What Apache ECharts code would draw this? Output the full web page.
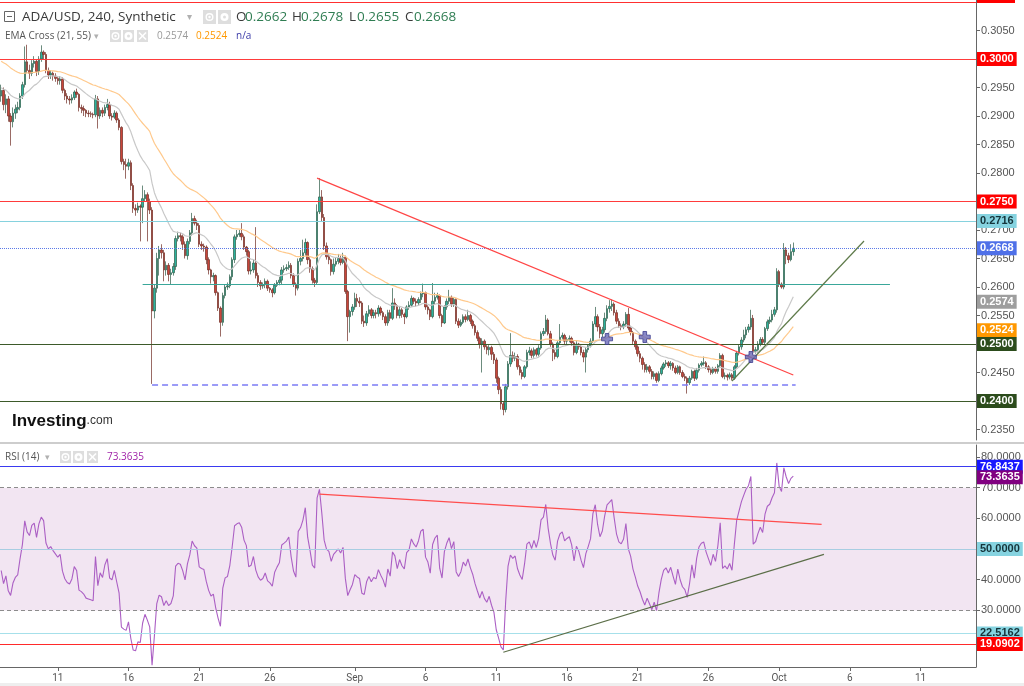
<!DOCTYPE html>
<html><head><meta charset="utf-8">
<script src="https://cdn.jsdelivr.net/npm/echarts@6/dist/echarts.min.js"></script>
<style>html,body{margin:0;padding:0;background:#fff;}#c{width:1024px;height:686px;}</style>
</head><body><div id="c"></div>
<script>
// ---------- data ----------
const startDate = Date.UTC(2023, 7, 7, 0, 0);   // first 4h candle
const candleHours = 4;
const categoryCount = 414;                        // visible 4h slots incl. empty future
const tickIndex = [24, 54, 84, 114, 150, 180, 210, 240, 270, 300, 330, 360, 390];
const tickText  = ['11', '16', '21', '26', 'Sep', '6', '11', '16', '21', '26', 'Oct', '6', '11'];
const PRICE_UNIT = 1e-4;

const openP = [
2935,2945,2920,2930,2900,2890,2905,2912,2915,2935,
2955,2995,2980,2975,2992,2996,2978,3000,3012,3008,
2980,2972,2975,2970,2966,2962,2965,2945,2935,2930,
2928,2932,2942,2938,2915,2913,2910,2905,2904,2903,
2902,2930,2900,2910,2905,2915,2920,2900,2898,2905,
2893,2880,2820,2815,2812,2818,2778,2738,2735,2742,
2740,2755,2762,2750,2735,2558,2598,2650,2665,2660,
2630,2638,2622,2625,2636,2685,2690,2688,2675,2655,
2680,2695,2720,2712,2708,2675,2672,2670,2648,2630,
2618,2620,2590,2563,2538,2585,2600,2602,2618,2648,
2688,2692,2694,2688,2670,2662,2628,2630,2642,2620,
2608,2602,2604,2610,2598,2595,2590,2603,2608,2612,
2630,2632,2634,2638,2620,2605,2598,2645,2650,2660,
2678,2648,2632,2612,2608,2732,2758,2722,2672,2653,
2648,2627,2640,2645,2650,2643,2652,2592,2548,2557,
2565,2580,2575,2572,2540,2537,2553,2560,2550,2555,
2553,2563,2555,2548,2537,2555,2545,2572,2567,2550,
2560,2552,2548,2565,2568,2580,2575,2572,2578,2588,
2590,2565,2560,2548,2575,2582,2585,2550,2537,2565,
2575,2582,2570,2578,2540,2533,2538,2548,2543,2550,
2540,2532,2520,2510,2500,2505,2495,2490,2494,2482,
2472,2440,2420,2395,2385,2425,2465,2480,2475,2478,
2460,2450,2443,2460,2485,2488,2480,2490,2482,2493,
2518,2522,2542,2518,2500,2485,2478,2502,2512,2515,
2505,2508,2510,2502,2485,2500,2495,2485,2477,2490,
2497,2505,2535,2548,2530,2518,2525,2545,2562,2566,
2570,2555,2540,2532,2530,2535,2552,2528,2520,2505,
2495,2483,2475,2464,2455,2460,2452,2443,2448,2436,
2448,2458,2465,2467,2462,2466,2458,2450,2460,2450,
2443,2440,2432,2440,2452,2440,2454,2463,2466,2467,
2460,2455,2450,2457,2452,2462,2480,2443,2445,2442,
2446,2440,2460,2484,2495,2507,2516,2525,2530,2545,
2487,2490,2500,2508,2503,2527,2539,2542,2552,2560,
2627,2605,2600,2665,2655,2648,2662];

const closeP = [
2945,2920,2930,2900,2890,2905,2912,2915,2935,2955,
2995,2980,2975,2992,2996,2978,3000,3012,3008,2980,
2972,2975,2970,2966,2962,2965,2945,2935,2930,2928,
2932,2942,2938,2915,2913,2910,2905,2904,2903,2902,
2930,2900,2910,2905,2915,2920,2900,2898,2905,2893,
2880,2820,2815,2812,2818,2778,2738,2735,2742,2740,
2755,2762,2750,2735,2558,2598,2650,2665,2660,2630,
2638,2622,2625,2636,2685,2690,2688,2675,2655,2680,
2695,2720,2712,2708,2675,2672,2670,2648,2630,2618,
2620,2590,2563,2538,2585,2600,2602,2618,2648,2688,
2692,2694,2688,2670,2662,2628,2630,2642,2620,2608,
2602,2604,2610,2598,2595,2590,2603,2608,2612,2630,
2632,2634,2638,2620,2605,2598,2645,2650,2660,2678,
2648,2632,2612,2608,2732,2758,2722,2672,2653,2648,
2627,2640,2645,2650,2643,2652,2592,2548,2557,2565,
2580,2575,2572,2540,2537,2553,2560,2550,2555,2553,
2563,2555,2548,2537,2555,2545,2572,2567,2550,2560,
2552,2548,2565,2568,2580,2575,2572,2578,2588,2590,
2565,2560,2548,2575,2582,2585,2550,2537,2565,2575,
2582,2570,2578,2540,2533,2538,2548,2543,2550,2540,
2532,2520,2510,2500,2505,2495,2490,2494,2482,2472,
2440,2420,2395,2385,2425,2465,2480,2475,2478,2460,
2450,2443,2460,2485,2488,2480,2490,2482,2493,2518,
2522,2542,2518,2500,2485,2478,2502,2512,2515,2505,
2508,2510,2502,2485,2500,2495,2485,2477,2490,2497,
2505,2535,2548,2530,2518,2525,2545,2562,2566,2570,
2555,2540,2532,2530,2535,2552,2528,2520,2505,2495,
2483,2475,2464,2455,2460,2452,2443,2448,2436,2448,
2458,2465,2467,2462,2466,2458,2450,2460,2450,2443,
2440,2432,2440,2452,2440,2454,2463,2466,2467,2460,
2455,2450,2457,2452,2462,2480,2443,2445,2442,2446,
2440,2460,2484,2495,2507,2516,2525,2530,2545,2487,
2490,2500,2508,2503,2527,2539,2542,2552,2560,2627,
2605,2600,2665,2655,2648,2662,2668];

const highP = [
2955,2950,2938,2935,2905,2915,2920,2925,2940,2960,
3022,3025,2990,2998,3005,3000,3005,3024,3015,3012,
2985,2980,2978,2975,2970,2970,2968,2948,2940,2935,
2938,2945,2948,2940,2920,2918,2912,2910,2908,2906,
2937,2935,2915,2915,2920,2930,2925,2905,2910,2908,
2896,2882,2825,2825,2825,2822,2782,2745,2748,2745,
2778,2770,2766,2755,2740,2605,2660,2672,2675,2665,
2645,2642,2632,2642,2690,2697,2695,2692,2680,2685,
2700,2730,2725,2718,2712,2680,2676,2673,2652,2632,
2625,2622,2592,2566,2590,2605,2608,2622,2652,2692,
2700,2700,2712,2692,2672,2665,2645,2648,2705,2625,
2612,2608,2615,2613,2600,2598,2607,2612,2618,2635,
2638,2640,2645,2642,2624,2608,2650,2665,2683,2685,
2680,2652,2636,2616,2745,2791,2770,2728,2678,2658,
2650,2650,2652,2658,2655,2660,2655,2595,2560,2570,
2590,2588,2582,2575,2550,2558,2568,2563,2560,2560,
2568,2566,2558,2552,2560,2560,2598,2580,2570,2565,
2563,2555,2568,2575,2585,2582,2580,2582,2592,2606,
2592,2568,2562,2607,2590,2590,2587,2553,2568,2580,
2595,2585,2582,2580,2545,2543,2552,2552,2560,2553,
2543,2535,2524,2513,2510,2508,2498,2498,2497,2486,
2476,2443,2425,2400,2430,2470,2519,2487,2485,2482,
2463,2455,2463,2490,2495,2492,2494,2493,2498,2522,
2528,2551,2545,2523,2503,2490,2505,2535,2520,2518,
2512,2515,2513,2505,2505,2502,2498,2490,2494,2500,
2510,2540,2565,2552,2535,2530,2555,2568,2577,2578,
2573,2560,2545,2536,2540,2556,2563,2532,2523,2508,
2498,2488,2478,2468,2465,2463,2456,2452,2450,2452,
2462,2468,2472,2470,2470,2468,2462,2463,2462,2454,
2448,2443,2444,2455,2455,2458,2466,2470,2478,2470,
2463,2458,2460,2460,2465,2484,2483,2450,2448,2450,
2449,2463,2488,2500,2512,2525,2530,2535,2560,2551,
2495,2505,2512,2512,2530,2543,2548,2560,2565,2633,
2630,2608,2677,2670,2660,2675,2678];

const lowP = [
2925,2910,2905,2890,2848,2880,2895,2905,2910,2930,
2950,2975,2965,2970,2985,2970,2972,2995,3000,2975,
2965,2965,2962,2960,2955,2955,2940,2928,2922,2920,
2922,2928,2932,2908,2905,2900,2898,2898,2898,2896,
2898,2878,2895,2898,2900,2910,2895,2892,2895,2888,
2875,2815,2805,2790,2805,2770,2730,2725,2730,2680,
2712,2750,2680,2728,2430,2545,2590,2620,2650,2610,
2620,2610,2605,2620,2630,2680,2680,2665,2650,2648,
2675,2690,2708,2700,2670,2665,2662,2640,2622,2606,
2610,2585,2558,2513,2532,2580,2595,2598,2612,2642,
2683,2688,2682,2665,2655,2622,2622,2625,2615,2600,
2595,2597,2598,2593,2590,2582,2587,2600,2603,2605,
2625,2628,2630,2615,2600,2585,2594,2638,2645,2655,
2640,2625,2606,2600,2605,2728,2715,2665,2648,2640,
2620,2622,2636,2640,2638,2640,2588,2505,2520,2550,
2560,2565,2565,2535,2530,2532,2548,2545,2545,2545,
2548,2550,2542,2532,2532,2540,2542,2560,2545,2545,
2546,2535,2545,2560,2565,2570,2566,2568,2572,2582,
2560,2552,2542,2545,2570,2578,2545,2530,2535,2560,
2570,2565,2565,2535,2528,2530,2535,2538,2540,2535,
2527,2515,2505,2492,2450,2490,2482,2480,2472,2465,
2432,2412,2385,2375,2380,2420,2460,2468,2470,2455,
2445,2438,2440,2457,2480,2475,2476,2478,2478,2490,
2514,2518,2515,2495,2470,2473,2475,2500,2508,2500,
2500,2503,2497,2480,2482,2490,2480,2468,2450,2485,
2494,2502,2530,2522,2510,2512,2520,2540,2555,2558,
2550,2535,2528,2524,2526,2530,2524,2515,2500,2490,
2478,2468,2455,2450,2450,2448,2438,2438,2432,2433,
2445,2455,2460,2458,2455,2453,2447,2447,2446,2440,
2435,2413,2428,2437,2435,2437,2450,2460,2462,2456,
2450,2446,2447,2448,2448,2458,2440,2438,2436,2438,
2436,2437,2457,2480,2490,2503,2510,2520,2525,2482,
2483,2485,2496,2500,2500,2523,2535,2538,2548,2555,
2600,2597,2596,2640,2642,2645,2655];

const emaPeriods = [21, 55];
const emaSeeds = [2950, 2998];
const rsiPeriod = 14;
const rsiSeedGain = 8, rsiSeedLoss = 10.6;

// horizontal price levels (main pane)
const redLevels = [0.3100, 0.3000, 0.2750];
const cyanLevel = 0.2716;
const lastPrice = 0.2668;
const emaLast = [0.2574, 0.2524];
const greenLevels = [0.2500, 0.2400];
const supportSeg = [[60, 0.2605], [377, 0.2605]];
const dashedSeg = [[64, 0.2428], [337, 0.2428]];
const redTrend = [[134, 0.2791], [336, 0.24456]];
const greenTrend = [[310, 0.24351], [366, 0.26807]];
const crossIdx = [257, 273, 318];
const crossVal = [0.25088, 0.25123, 0.24772];

// RSI pane levels
const rsiTop = 76.8437, rsiLast = 73.3635;
const rsiBand = [30, 70];
const rsiMid = 50, rsiLow1 = 22.5162, rsiLow2 = 19.0902;
const rsiRedTrend = [[135, 67.9], [348, 58.05]];
const rsiGreenTrend = [[213, 16.35], [349, 48.27]];

// header texts
const ohlc = ['0.2662', '0.2678', '0.2655', '0.2668'];

// ---------- derived ----------
const categories = [];
for (let i = 0; i < categoryCount; i++) {
  const d = new Date(startDate + i * candleHours * 3600e3);
  categories.push(d.toISOString().slice(0, 16).replace('T', ' '));
}
const tickMap = {};
tickIndex.forEach((k, j) => { tickMap[k] = tickText[j]; });

const candles = openP.map((o, i) => [o * PRICE_UNIT, closeP[i] * PRICE_UNIT, lowP[i] * PRICE_UNIT, highP[i] * PRICE_UNIT]);

function ema(src, n, seed) {
  const k = 2 / (n + 1); let e = seed;
  return src.map(c => { e = c * k + e * (1 - k); return +(e * PRICE_UNIT).toFixed(5); });
}
function rsi(src, n, g0, l0) {
  let ag = g0, al = l0; const out = [];
  for (let i = 0; i < src.length; i++) {
    const d = i ? src[i] - src[i - 1] : 0;
    ag = (ag * (n - 1) + Math.max(d, 0)) / n;
    al = (al * (n - 1) + Math.max(-d, 0)) / n;
    out.push(+(100 - 100 / (1 + ag / al)).toFixed(2));
  }
  return out;
}
const emaFast = ema(closeP, emaPeriods[0], emaSeeds[0]);
const emaSlow = ema(closeP, emaPeriods[1], emaSeeds[1]);
const rsiVals = rsi(closeP, rsiPeriod, rsiSeedGain, rsiSeedLoss);

// ---------- styling helpers ----------
const LBL = { show: true, position: 'end', distance: 1, fontSize: 11, fontWeight: 'bold', fontFamily: 'Liberation Sans, Arial', padding: [2, 3, 1, 3] };
function level(v, lineColor, lineType, bg, fg, digits, width) {
  return {
    yAxis: v,
    lineStyle: { color: lineColor, type: lineType, width: width || 1 },
    label: bg ? Object.assign({}, LBL, { formatter: v.toFixed(digits), backgroundColor: bg, color: fg }) : { show: false }
  };
}
function seg(pts, color, type, width) {
  return [
    { coord: pts[0], lineStyle: { color: color, type: type, width: width }, label: { show: false } },
    { coord: pts[1] }
  ];
}
const NONE = 'rgba(0,0,0,0)';

const mainMarks = [
  level(redLevels[0], '#ff3030', 'solid', null, null, 4),
  level(redLevels[1], '#ff3b3b', 'solid', '#ff0000', '#fff', 4),
  level(redLevels[2], '#ff3b3b', 'solid', '#ff0000', '#fff', 4),
  level(cyanLevel, '#86d2de', 'solid', '#86d3e0', '#15343a', 4),
  level(lastPrice, '#5b79e8', 'dotted', '#4f70e8', '#fff', 4),
  level(emaLast[0], NONE, 'solid', '#9e9e9e', '#fff', 4),
  level(emaLast[1], NONE, 'solid', '#ff9800', '#fff', 4),
  level(greenLevels[0], '#3d5a2a', 'solid', '#2c4c1c', '#fff', 4),
  level(greenLevels[1], '#3d5a2a', 'solid', '#2c4c1c', '#fff', 4),
  seg(supportSeg, '#3aa79a', 'solid', 1.2),
  seg(dashedSeg, '#7b7bf5', [6, 4], 1.5),
  seg(redTrend, '#ff4545', 'solid', 1.2),
  seg(greenTrend, '#5e7a4a', 'solid', 1.2)
];

const rsiMarks = [
  level(rsiTop, '#3a3af0', 'solid', '#1717ff', '#fff', 4),
  level(rsiLast, NONE, 'solid', '#800080', '#fff', 4),
  level(rsiBand[1], '#8c8c8c', [4, 3], null, null, 4),
  level(rsiBand[0], '#8c8c8c', [4, 3], null, null, 4),
  level(rsiMid, '#a8cde2', 'solid', '#86d3e0', '#15343a', 4),
  level(rsiLow1, '#a6e0ea', 'solid', '#86d3e0', '#15343a', 4),
  level(rsiLow2, '#ff2a2a', 'solid', '#ff0000', '#fff', 4),
  seg(rsiRedTrend, '#ff4d4d', 'solid', 1.2),
  seg(rsiGreenTrend, '#5b6e48', 'solid', 1.2)
];

// ---------- header graphics ----------
const G = [];
function txt(x, y, s, size, color, weight, family) {
  G.push({ type: 'text', x: x, y: y, z: 100, style: { text: s, fill: color, fontSize: size, fontWeight: weight || 'normal', fontFamily: family || 'Open Sans', verticalAlign: 'middle', align: 'left' } });
}
function iconBox(x, y, w, h, kind) {
  const cx = x + w / 2, cy = y + h / 2;
  G.push({ type: 'rect', z: 100, shape: { x: x, y: y, width: w, height: h }, style: { fill: '#dedede' } });
  if (kind === 'eye') {
    G.push({ type: 'circle', z: 101, shape: { cx: cx, cy: cy, r: 3.3 }, style: { fill: 'none', stroke: '#fff', lineWidth: 1.4 } });
    G.push({ type: 'circle', z: 101, shape: { cx: cx, cy: cy, r: 1.2 }, style: { fill: '#fff' } });
  } else if (kind === 'gear') {
    G.push({ type: 'circle', z: 101, shape: { cx: cx, cy: cy, r: 4 }, style: { fill: '#fff' } });
    G.push({ type: 'circle', z: 102, shape: { cx: cx, cy: cy, r: 1.5 }, style: { fill: '#dedede' } });
  } else {
    G.push({ type: 'line', z: 101, shape: { x1: cx - 3.5, y1: cy - 3.5, x2: cx + 3.5, y2: cy + 3.5 }, style: { stroke: '#fff', lineWidth: 1.6 } });
    G.push({ type: 'line', z: 101, shape: { x1: cx + 3.5, y1: cy - 3.5, x2: cx - 3.5, y2: cy + 3.5 }, style: { stroke: '#fff', lineWidth: 1.6 } });
  }
}
// line 1
G.push({ type: 'rect', z: 100, shape: { x: 4.5, y: 11.5, width: 10, height: 10 }, style: { fill: '#fff', stroke: '#666', lineWidth: 1 } });
G.push({ type: 'line', z: 101, shape: { x1: 7, y1: 16.5, x2: 12, y2: 16.5 }, style: { stroke: '#666', lineWidth: 1 } });
txt(22, 17, 'ADA/USD, 240, Synthetic', 13.5, '#3a3a3a');
txt(187, 17, '▾', 10, '#b0b0b0');
iconBox(203, 10, 13, 14, 'eye');
iconBox(218, 10, 13, 14, 'gear');
const ohlcX = [[236, 245], [292, 301], [349, 357], [405, 414]];
['O', 'H', 'L', 'C'].forEach((k, j) => {
  txt(ohlcX[j][0], 17, k, 13.5, '#3a3a3a');
  txt(ohlcX[j][1], 17, ohlc[j], 13.5, '#2f7d52');
});
// line 2
txt(5, 36, 'EMA Cross (21, 55)', 10, '#555');
txt(94, 36, '▾', 9, '#b0b0b0');
iconBox(110, 30, 11, 12, 'eye');
iconBox(123, 30, 11, 12, 'gear');
iconBox(137, 30, 11, 12, 'x');
txt(157, 36, emaLast[0].toFixed(4), 10, '#9a9a9a');
txt(196, 36, emaLast[1].toFixed(4), 10, '#ff9800');
txt(236, 36, 'n/a', 10, '#3b3ba8');
// RSI header
txt(5, 457, 'RSI (14)', 10, '#555');
txt(45, 457, '▾', 9, '#b0b0b0');
iconBox(60, 451, 11, 12, 'eye');
iconBox(73, 451, 11, 12, 'gear');
iconBox(87, 451, 11, 12, 'x');
txt(107, 457, rsiLast.toFixed(4), 10, '#a023a8');
// logo
G.push({ type: 'text', x: 12, y: 421, z: 100, style: { text: '{a|Investing}{b|.com}', verticalAlign: 'middle', rich: { a: { fontSize: 17, fontWeight: 'bold', fill: '#111', fontFamily: 'Liberation Sans, Arial' }, b: { fontSize: 12, fill: '#333', fontFamily: 'Liberation Sans, Arial' } } } });
// pane separator & misc
G.push({ type: 'rect', z: 90, shape: { x: 0, y: 442, width: 1024, height: 2 }, style: { fill: '#cdcdcd' } });
G.push({ type: 'rect', z: 90, shape: { x: 977, y: 0, width: 38, height: 3 }, style: { fill: '#ff0000' } });
G.push({ type: 'rect', z: 90, shape: { x: 0, y: 683, width: 1024, height: 3 }, style: { fill: '#eeeeee' } });

// ---------- chart ----------
const chart = echarts.init(document.getElementById('c'), null, { renderer: 'canvas' });
const tickFn = (idx) => tickMap[idx] !== undefined;
const yLabel = (v) => v.toFixed(4);
const priceLabel = (v) => (v > 0.3099 ? '' : v.toFixed(4));
chart.setOption({
  animation: false,
  backgroundColor: '#fff',
  grid: [
    { left: 0, right: 48, top: 0, height: 440 },
    { left: 0, right: 48, top: 445, height: 222 }
  ],
  xAxis: [
    { type: 'category', gridIndex: 0, data: categories, boundaryGap: true, axisLine: { show: false }, axisTick: { show: false }, axisLabel: { show: false }, splitLine: { show: false } },
    { type: 'category', gridIndex: 1, data: categories, boundaryGap: true,
      axisLine: { show: true, lineStyle: { color: '#666' } },
      axisTick: { show: true, interval: tickFn, alignWithLabel: true, length: 4, lineStyle: { color: '#666' } },
      axisLabel: { interval: tickFn, formatter: (v, idx) => tickMap[idx] || '', color: '#555', fontSize: 10, margin: 6, fontFamily: 'Liberation Sans Narrow, Roboto, Arial' },
      splitLine: { show: false } }
  ],
  yAxis: [
    { type: 'value', gridIndex: 0, position: 'right', min: 0.233158, max: 0.310351, splitNumber: 15,
      axisLine: { show: true, lineStyle: { color: '#666' } }, axisTick: { show: true, length: 4, lineStyle: { color: '#666' } },
      axisLabel: { color: '#555', fontSize: 11, margin: 5, formatter: priceLabel, showMinLabel: false, showMaxLabel: false, fontFamily: 'Liberation Sans, Arial' },
      splitLine: { show: false } },
    { type: 'value', gridIndex: 1, position: 'right', min: 11.56, max: 83.9, splitNumber: 7,
      axisLine: { show: true, lineStyle: { color: '#666' } }, axisTick: { show: true, length: 4, lineStyle: { color: '#666' } },
      axisLabel: { color: '#555', fontSize: 11, margin: 5, formatter: yLabel, showMinLabel: false, showMaxLabel: false, fontFamily: 'Liberation Sans, Arial' },
      splitLine: { show: false } }
  ],
  series: [
    { type: 'candlestick', xAxisIndex: 0, yAxisIndex: 0, data: candles, barWidth: 2,
      itemStyle: { color: '#2bb39e', color0: '#c9453a', borderColor: '#2c5a46', borderColor0: '#6e2b22', borderWidth: 0.7 },
      markLine: { silent: true, precision: 6, symbol: ['none', 'none'], animation: false, data: mainMarks }, z: 2 },
    { type: 'line', xAxisIndex: 0, yAxisIndex: 0, data: emaFast, showSymbol: false, symbol: 'none', lineStyle: { color: '#c8c8c8', width: 1.2 }, z: 3 },
    { type: 'line', xAxisIndex: 0, yAxisIndex: 0, data: emaSlow, showSymbol: false, symbol: 'none', lineStyle: { color: '#ffc98c', width: 1.2 }, z: 3 },
    { type: 'scatter', xAxisIndex: 0, yAxisIndex: 0, data: crossIdx.map((k, j) => [k, crossVal[j]]),
      symbol: 'path://M4,0H8V4H12V8H8V12H4V8H0V4H4Z', symbolSize: 11,
      itemStyle: { color: '#6a6ab8', borderColor: '#3d3d8e', borderWidth: 1 }, z: 5 },
    { type: 'line', xAxisIndex: 1, yAxisIndex: 1, data: rsiVals, showSymbol: false, symbol: 'none', lineStyle: { color: '#ab5fc4', width: 1.1 }, z: 3,
      markArea: { silent: true, itemStyle: { color: 'rgba(128,0,128,0.1)' }, data: [[{ yAxis: rsiBand[0] }, { yAxis: rsiBand[1] }]] },
      markLine: { silent: true, precision: 6, symbol: ['none', 'none'], animation: false, data: rsiMarks } }
  ],
  graphic: G
});
</script></body></html>
